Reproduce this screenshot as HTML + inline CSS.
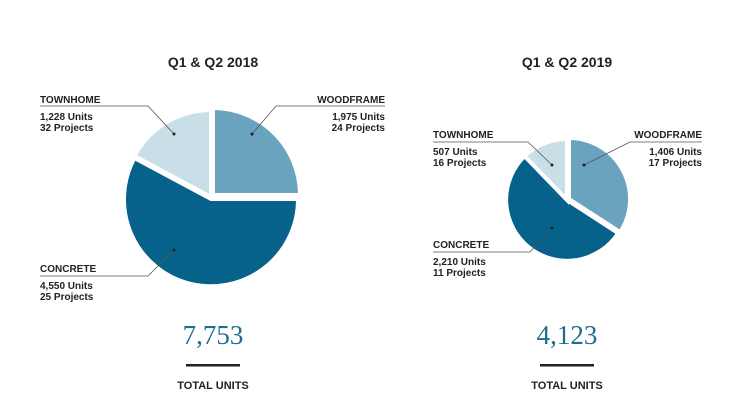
<!DOCTYPE html>
<html><head><meta charset="utf-8"><style>
html,body{margin:0;padding:0;background:#fff;}
svg{display:block;}
.t{font-family:"Liberation Sans",sans-serif;font-weight:bold;fill:#222;}
.n{font-family:"Liberation Serif",serif;fill:#1f6d8c;}
</style></head><body>
<svg width="750" height="418" viewBox="0 0 750 418" xmlns="http://www.w3.org/2000/svg">
<rect width="750" height="418" fill="#fff"/>
<g stroke="#fff" stroke-width="4" stroke-linejoin="miter">
  <path d="M211,197 L211,110 A87,87 0 0 1 298,197 Z" fill="#6aa3bd" transform="translate(2,-2)"/>
  <path d="M211,197 L298,197 A87,87 0 1 1 134.4,156.0 Z" fill="#06628a" transform="translate(0,2)"/>
  <path d="M211,197 L134.4,156.0 A87,87 0 0 1 211,110 Z" fill="#c9dfe8"/>
</g>
<g stroke="#fff" stroke-width="4">
  <path d="M567,200 L567,139 A61,61 0 0 1 618.2,233.2 Z" fill="#6aa3bd" transform="translate(2,-1)"/>
  <path d="M567,200 L618.2,233.2 A61,61 0 1 1 524.6,156.1 Z" fill="#06628a"/>
  <path d="M567,200 L524.6,156.1 A61,61 0 0 1 567,139 Z" fill="#c9dfe8"/>
</g>
<g stroke="#555" stroke-width="0.8" fill="none">
  <polyline points="40,106 148,106 174,134"/>
  <polyline points="385,106 276,106 252,134"/>
  <polyline points="40,276 148,276 174,250"/>
  <polyline points="433,142 528,142 552,165"/>
  <polyline points="702,142 630,142 584,165"/>
  <polyline points="433,252 530,252 552,228"/>
</g>
<g fill="#222">
  <circle cx="174" cy="134" r="1.5"/><circle cx="252" cy="134" r="1.5"/><circle cx="174" cy="250" r="1.5"/>
  <circle cx="552" cy="165" r="1.5"/><circle cx="584" cy="165" r="1.5"/><circle cx="552" cy="228" r="1.5"/>
</g>
<text class="t" x="213" y="67" font-size="14" text-anchor="middle">Q1 &amp; Q2 2018</text>
<text class="t" x="567" y="67" font-size="14" text-anchor="middle">Q1 &amp; Q2 2019</text>
<g class="t" font-size="10">
  <text x="40" y="103">TOWNHOME</text>
  <text x="40" y="120">1,228 Units</text>
  <text x="40" y="131">32 Projects</text>
  <text x="385" y="103" text-anchor="end">WOODFRAME</text>
  <text x="385" y="120" text-anchor="end">1,975 Units</text>
  <text x="385" y="131" text-anchor="end">24 Projects</text>
  <text x="40" y="272">CONCRETE</text>
  <text x="40" y="289">4,550 Units</text>
  <text x="40" y="300">25 Projects</text>
  <text x="433" y="138">TOWNHOME</text>
  <text x="433" y="155">507 Units</text>
  <text x="433" y="166">16 Projects</text>
  <text x="702" y="138" text-anchor="end">WOODFRAME</text>
  <text x="702" y="155" text-anchor="end">1,406 Units</text>
  <text x="702" y="166" text-anchor="end">17 Projects</text>
  <text x="433" y="248">CONCRETE</text>
  <text x="433" y="265">2,210 Units</text>
  <text x="433" y="276">11 Projects</text>
</g>
<text class="n" x="213" y="344" font-size="27" text-anchor="middle">7,753</text>
<rect x="186" y="364" width="54" height="2.5" fill="#222"/>
<text class="t" x="213" y="389" font-size="11" text-anchor="middle">TOTAL UNITS</text>
<text class="n" x="567" y="344" font-size="27" text-anchor="middle">4,123</text>
<rect x="540" y="364" width="54" height="2.5" fill="#222"/>
<text class="t" x="567" y="389" font-size="11" text-anchor="middle">TOTAL UNITS</text>
</svg>
</body></html>
